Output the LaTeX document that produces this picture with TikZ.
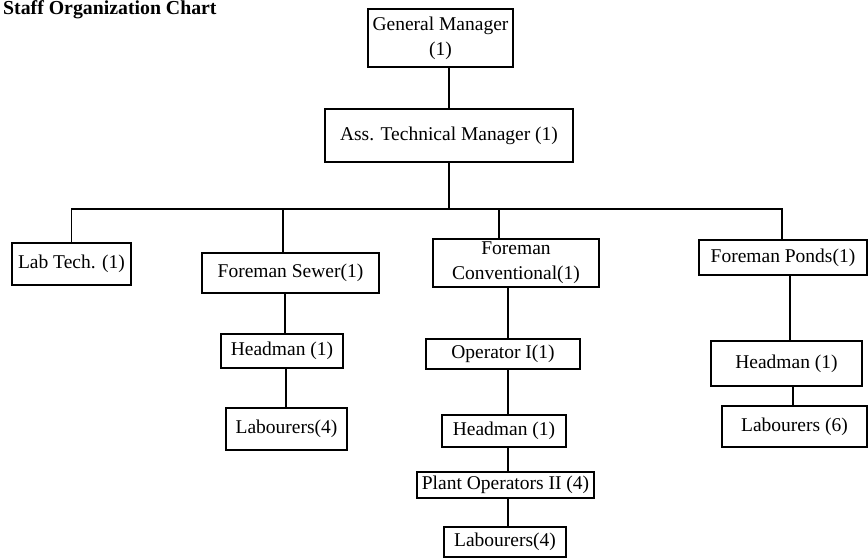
\documentclass[tikz,border=0pt]{standalone}
\usepackage{fontspec}
\setmainfont{Liberation Serif}
\begin{document}
\begin{tikzpicture}[x=1pt,y=-1pt,
  post/.style={draw=black, line width=1.3pt, inner sep=0pt, align=center,
    font=\fontsize{19.5}{25}\selectfont},
  link/.style={draw=black, line width=1.7pt}]
\useasboundingbox (0,0) rectangle (868,558);
\fill[white] (0,0) rectangle (868,558);

% title
\node[anchor=north west, inner sep=0pt, font=\fontsize{19.8}{21}\selectfont\bfseries]
  (title) at (3,0.5) {Staff Organization Chart};

% top management
\node[post, minimum width=145, minimum height=58] (GM) at (440.5,38)
  {General Manager\\(1)};
\node[post, minimum width=248, minimum height=53] (ATM) at (449,135.5)
  {Ass. Technical Manager (1)};

% second level
\node[post, minimum width=119, minimum height=42] (LT) at (71.5,264) {Lab Tech. (1)};
\node[post, minimum width=177, minimum height=40] (FS) at (290.5,273) {Foreman Sewer(1)};
\node[post, minimum width=166, minimum height=48] (FC) at (516,263)
  {Foreman\\Conventional(1)};
\node[post, minimum width=168, minimum height=35] (FP) at (783,257.5) {Foreman Ponds(1)};

% sewer branch
\node[post, minimum width=122, minimum height=34] (HS) at (282,351) {Headman (1)};
\node[post, minimum width=121, minimum height=42] (LS) at (286.5,429) {Labourers(4)};

% conventional branch
\node[post, minimum width=154, minimum height=30] (OP) at (503,354) {Operator I(1)};
\node[post, minimum width=124, minimum height=32] (HC) at (504,431) {Headman (1)};
\node[post, minimum width=177, minimum height=26] (PO) at (505.5,485) {Plant Operators II (4)};
\node[post, minimum width=122, minimum height=30] (LC) at (505,542) {Labourers(4)};

% ponds branch
\node[post, minimum width=151, minimum height=45] (HP) at (786.5,363.5) {Headman (1)};
\node[post, minimum width=145, minimum height=41] (LP) at (794.5,426.5) {Labourers (6)};

% connectors
\coordinate (bus) at (451,209);
\draw[link] (ATM.north) -- (ATM.north |- GM.south);
\draw[link] (ATM.south) -- (ATM.south |- bus);
\draw[link] (LT.north) -- (LT.north |- bus) -- ([xshift=-1pt]FP.north |- bus) -- ([xshift=-1pt]FP.north);
\draw[link] ([xshift=-7.5pt]FS.north) -- ([xshift=-7.5pt]FS.north |- bus);
\draw[link] ([xshift=-17pt]FC.north) -- ([xshift=-17pt]FC.north |- bus);

\draw[link] ([xshift=-5.5pt]FS.south) -- ([xshift=-5.5pt]FS.south |- HS.north);
\draw[link] ([xshift=4pt]HS.south) -- ([xshift=4pt]HS.south |- LS.north);

\draw[link] ([xshift=-8pt]FC.south) -- ([xshift=-8pt]FC.south |- OP.north);
\draw[link] ([xshift=5pt]OP.south) -- ([xshift=5pt]OP.south |- HC.north);
\draw[link] ([xshift=4pt]HC.south) -- ([xshift=4pt]HC.south |- PO.north);
\draw[link] ([xshift=2.5pt]PO.south) -- ([xshift=2.5pt]PO.south |- LC.north);

\draw[link] ([xshift=7pt]FP.south) -- ([xshift=7pt]FP.south |- HP.north);
\draw[link] ([xshift=6.5pt]HP.south) -- ([xshift=6.5pt]HP.south |- LP.north);
\end{tikzpicture}
\end{document}
